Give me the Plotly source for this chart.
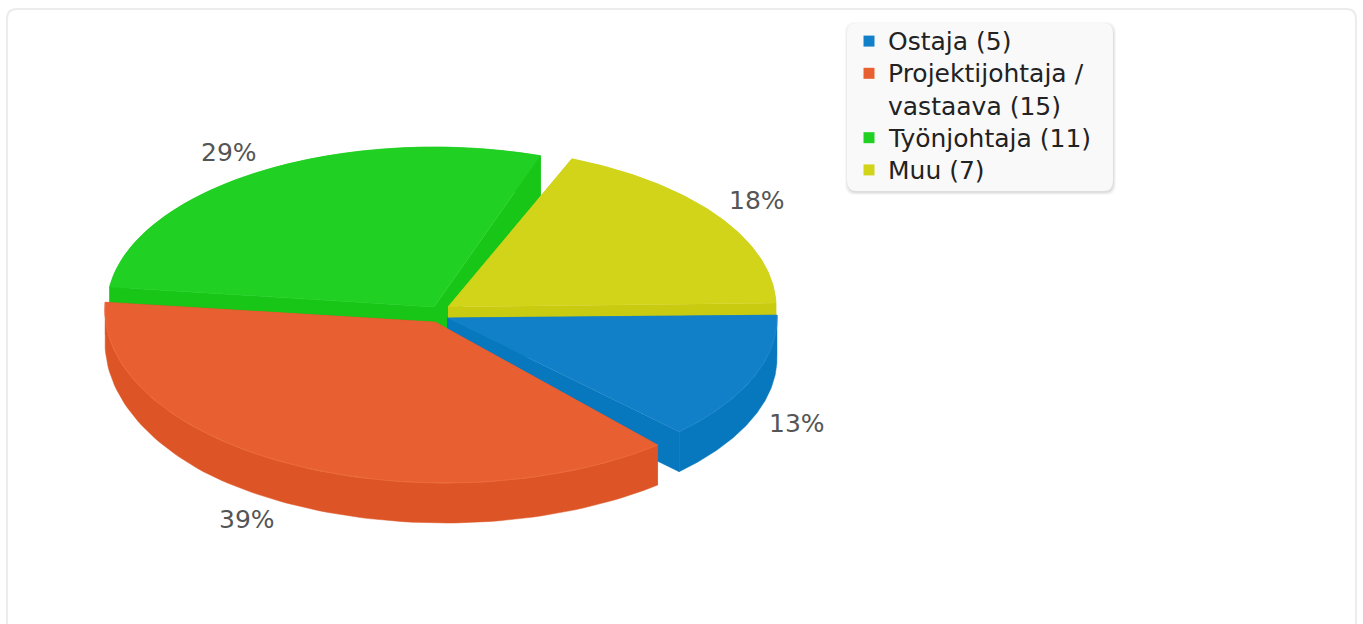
import numpy as np
import plotly.graph_objects as go

# ---- data ----
labels = ["Ostaja (5)", "Projektijohtaja /<br>vastaava (15)", "Työnjohtaja (11)", "Muu (7)"]
values = [5, 15, 11, 7]
pct_labels = ["13%", "39%", "29%", "18%"]

# ---- styles / geometry of the tilted, exploded pie ----
TOP = ["#1280C9", "#E86032", "#20D022", "#D2D41A"]
SIDE = ["#0878BE", "#DD5526", "#18C618", "#C9CB10"]
RIM = ["#1E88CC", "#EC6A3D", None, None]
APEX = [(447, 318), (435, 322), (434, 307), (448, 307)]
CENTER = [(447, 318), (445, 310), (434, 307), (448, 307)]
NUDGE = [(-1, -2.07), (3.93, -6.87), (-2.27, -4.68), (-1.48, -1.4)]
LABEL_SHIFT = [(44, 45), (-44, 55), (-32, -19), (39, -16)]
RXS = [330, 340, 327, 328]
RYS = [160, 173, 160, 160]
WALL = [40, 40, 40, 12]
WALL_TAPER = [0, 0.2, 0, 0]
Y_MIN, Y_MAX = 146, 523
W, H = 1363, 624
DRAW_ORDER = [2, 3, 0, 1]

total = sum(values)
edges = np.cumsum([0] + values) / total * 360.0
spans = [(edges[i] + NUDGE[i][0], edges[i + 1] + NUDGE[i][1]) for i in range(len(values))]


def arc(i, a0, a1, n=90):
    t = np.radians(np.linspace(a0, a1, n))
    return CENTER[i][0] + RXS[i] * np.cos(t), CENTER[i][1] + RYS[i] * np.sin(t)


def poly(xs, ys, color):
    return go.Scatter(x=list(xs), y=list(np.clip(ys, Y_MIN, Y_MAX)), mode="lines", fill="toself",
                      fillcolor=color, line=dict(color=color, width=0.5),
                      hoverinfo="skip", showlegend=False)


fig = go.Figure()
for i in DRAW_ORDER:
    a0, a1 = spans[i]
    ax, ay = APEX[i]
    x, y = arc(i, a0, a1)
    s = np.abs(np.sin(np.radians(np.linspace(a0, a1, len(x)))))
    depth = WALL[i] * (1 - WALL_TAPER[i] * (1 - np.minimum(s / 0.7, 1)))
    # radial walls
    for xe, ye, de in ((x[0], y[0], depth[0]), (x[-1], y[-1], depth[-1])):
        fig.add_trace(poly([ax, xe, xe, ax], [ay, ye, ye + de, ay + de], SIDE[i]))
    # outer wall
    fig.add_trace(poly(np.r_[x, x[::-1]], np.r_[y, (y + depth)[::-1]], SIDE[i]))
    # top face
    fig.add_trace(poly(np.r_[ax, x], np.r_[ay, y], TOP[i]))
    if RIM[i]:
        fig.add_trace(go.Scatter(x=list(x), y=list(y), mode="lines", line=dict(color=RIM[i], width=1),
                                 hoverinfo="skip", showlegend=False))


def rounded(x0, y0, x1, y1, r):
    return (f"M{x0+r},{y0} L{x1-r},{y0} Q{x1},{y0} {x1},{y0+r} L{x1},{y1-r} Q{x1},{y1} {x1-r},{y1} "
            f"L{x0+r},{y1} Q{x0},{y1} {x0},{y1-r} L{x0},{y0+r} Q{x0},{y0} {x0+r},{y0} Z")


shapes = [dict(type="path", path=rounded(7, 9, 1356, 660, 10), line=dict(color="#ececec", width=2),
               fillcolor="white", layer="below")]
for grow, alpha in ((3, 0.03), (2, 0.04), (1, 0.06)):
    shapes.append(dict(type="path", path=rounded(847 - grow + 1, 23 - grow + 2, 1113 + grow, 191 + grow + 1, 10),
                       line=dict(width=0), fillcolor=f"rgba(0,0,0,{alpha})", layer="below"))
shapes.append(dict(type="path", path=rounded(847, 23, 1113, 191, 10), line=dict(width=0),
                   fillcolor="#f9f9f9", layer="below"))

annotations = []
FONT = "DejaVu Sans"
# percentage labels
for i, txt in enumerate(pct_labels):
    m = np.radians(sum(spans[i]) / 2)
    annotations.append(dict(x=CENTER[i][0] + RXS[i] * np.cos(m) + LABEL_SHIFT[i][0],
                            y=CENTER[i][1] + RYS[i] * np.sin(m) + LABEL_SHIFT[i][1],
                            text=txt, showarrow=False, xanchor="center", yanchor="middle",
                            font=dict(family=FONT, size=25, color="#555555")))
# legend
LINE = 32.2
row_top = 25.0
for i, txt in enumerate(labels):
    fig.add_trace(go.Scatter(x=[869], y=[row_top + LINE / 2], mode="markers",
                             marker=dict(symbol="square", size=11, color=TOP[i]),
                             hoverinfo="skip", showlegend=False))
    annotations.append(dict(x=886, y=row_top, text=txt, showarrow=False, xanchor="left", yanchor="top",
                            align="left", font=dict(family=FONT, size=25, color="#222222")))
    row_top += LINE * (txt.count("<br>") + 1)

fig.update_layout(width=W, height=H, margin=dict(l=0, r=0, t=0, b=0), autosize=False,
                  paper_bgcolor="white", plot_bgcolor="white", showlegend=False,
                  xaxis=dict(range=[0, W], visible=False, fixedrange=True),
                  yaxis=dict(range=[H, 0], visible=False, fixedrange=True),
                  shapes=shapes, annotations=annotations)
fig.write_html("out.html", config=dict(displayModeBar=False),
               post_script="document.body.style.margin='0';document.body.style.overflow='hidden';")
